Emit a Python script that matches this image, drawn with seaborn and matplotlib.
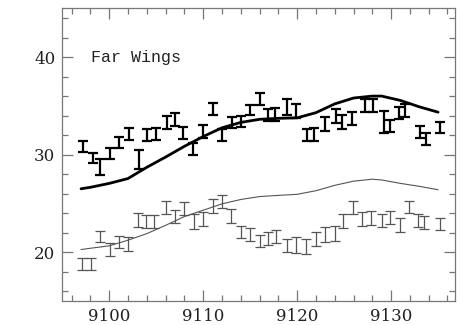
import numpy as np
import pandas as pd
import seaborn as sns
import matplotlib
matplotlib.use("Agg")
import matplotlib.pyplot as plt
from matplotlib.ticker import MultipleLocator

# Measured line strengths, strong feature (black) with 1-sigma errors
upper_x = [9097.2, 9098.3, 9099.0, 9100.1, 9101.0, 9102.1, 9103.2, 9104.0, 9105.0,
           9106.1, 9107.0, 9107.9, 9108.9, 9110.0, 9111.0, 9112.0, 9113.1, 9114.0,
           9115.0, 9116.0, 9116.9, 9117.6, 9118.9, 9119.9, 9121.0, 9121.8, 9123.0,
           9124.1, 9124.8, 9125.8, 9127.2, 9128.1, 9129.2, 9129.9, 9130.8, 9131.5,
           9133.1, 9133.7, 9135.2]
upper_y = [30.85, 29.67, 28.7, 30.08, 31.27, 32.1, 29.49, 32.0, 32.12,
           33.27, 33.57, 32.25, 30.6, 32.4, 34.67, 32.0, 33.3, 33.4,
           34.57, 35.73, 34.06, 34.14, 34.93, 34.49, 31.97, 32.04, 33.14,
           33.99, 33.33, 33.67, 35.03, 35.03, 33.35, 32.94, 34.23, 34.54,
           32.33, 31.6, 32.8]
upper_err = [0.54, 0.51, 0.82, 0.56, 0.56, 0.6, 0.98, 0.63, 0.63,
             0.68, 0.65, 0.61, 0.63, 0.68, 0.62, 0.63, 0.6, 0.6,
             0.56, 0.6, 0.63, 0.66, 0.82, 0.75, 0.62, 0.65, 0.73,
             0.73, 0.68, 0.68, 0.68, 0.68, 1.1, 0.59, 0.63, 0.66,
             0.59, 0.65, 0.56]

# Measured line strengths, weak feature (grey)
lower_x = [9097.1, 9098.1, 9099.0, 9100.1, 9101.0, 9102.0, 9103.1, 9103.9, 9104.8,
           9106.0, 9107.0, 9108.0, 9109.0, 9110.0, 9111.0, 9112.0, 9113.0, 9114.0,
           9115.0, 9116.0, 9116.9, 9117.7, 9118.9, 9119.9, 9120.9, 9122.0, 9123.0,
           9124.0, 9124.9, 9125.9, 9126.9, 9127.9, 9129.0, 9129.9, 9130.9, 9131.9,
           9132.9, 9133.5, 9135.2]
lower_y = [18.78, 18.78, 21.61, 20.26, 21.05, 20.85, 23.31, 23.12, 23.12,
           24.59, 23.65, 24.49, 23.14, 23.4, 24.7, 25.16, 23.7, 22.07,
           21.8, 21.13, 21.42, 21.63, 20.68, 20.73, 20.6, 21.32, 21.82,
           21.92, 23.17, 24.59, 23.43, 23.52, 23.23, 23.57, 22.78, 24.62,
           23.23, 23.06, 22.89]
lower_err = [0.6, 0.6, 0.59, 0.66, 0.64, 0.68, 0.7, 0.68, 0.68,
             0.68, 0.66, 0.68, 0.77, 0.75, 0.72, 0.68, 0.71, 0.64,
             0.68, 0.63, 0.68, 0.68, 0.68, 0.8, 0.77, 0.71, 0.73,
             0.73, 0.73, 0.68, 0.71, 0.73, 0.68, 0.68, 0.68, 0.64,
             0.68, 0.68, 0.61]

# Model predictions for both features
model_x = [9097, 9098, 9100, 9102, 9104, 9106, 9108, 9110, 9112, 9114, 9116,
           9118, 9120, 9122, 9124, 9126, 9128, 9129, 9131, 9133, 9135]
model_hi = [26.5, 26.65, 27.05, 27.55, 28.7, 29.75, 30.85, 31.85, 32.75, 33.3, 33.62,
            33.72, 33.77, 34.3, 35.2, 35.8, 36.0, 36.0, 35.55, 34.9, 34.35]
model_lo = [20.27, 20.4, 20.65, 21.23, 21.9, 22.75, 23.65, 24.3, 24.95, 25.4, 25.7,
            25.82, 25.93, 26.3, 26.85, 27.28, 27.48, 27.4, 27.05, 26.75, 26.4]

label_text = "Far Wings"
x_ticks = [9100, 9110, 9120, 9130]
y_ticks = [20, 30, 40]

sns.set_style("ticks")
plt.rcParams["font.family"] = ["DejaVu Serif"]

fig = plt.figure(figsize=(4.61, 3.25), dpi=100)
ax = fig.add_axes([0.135, 0.074, 0.852, 0.9005])

models = pd.DataFrame({"x": model_x, "hi": model_hi, "lo": model_lo})
sns.lineplot(data=models, x="x", y="hi", ax=ax, color="black", linewidth=2.0)
sns.lineplot(data=models, x="x", y="lo", ax=ax, color="#555555", linewidth=0.8)

ax.errorbar(upper_x, upper_y, yerr=upper_err, fmt="none", ecolor="black",
            elinewidth=1.6, capsize=3.8, capthick=1.6)
ax.errorbar(lower_x, lower_y, yerr=lower_err, fmt="none", ecolor="#555555",
            elinewidth=0.9, capsize=3.8, capthick=0.9)

ax.text(9098.1, 40, label_text, family="Liberation Mono", fontsize=12,
        va="center", ha="left", color="#222222")

ax.set_xlim(9095, 9136.8)
ax.set_ylim(15, 45)
ax.set_xticks(x_ticks)
ax.set_yticks(y_ticks)
ax.xaxis.set_minor_locator(MultipleLocator(2))
ax.yaxis.set_minor_locator(MultipleLocator(2))
ax.set_xlabel("")
ax.set_ylabel("")

for s in ax.spines.values():
    s.set_color("#777777")
    s.set_linewidth(0.9)
ax.tick_params(which="both", direction="in", top=True, right=True,
               colors="#777777", labelcolor="#222222", labelsize=12, width=0.9)
ax.tick_params(which="major", length=8, pad=5)
ax.tick_params(which="minor", length=4)

fig.savefig("out.png", dpi=100)
